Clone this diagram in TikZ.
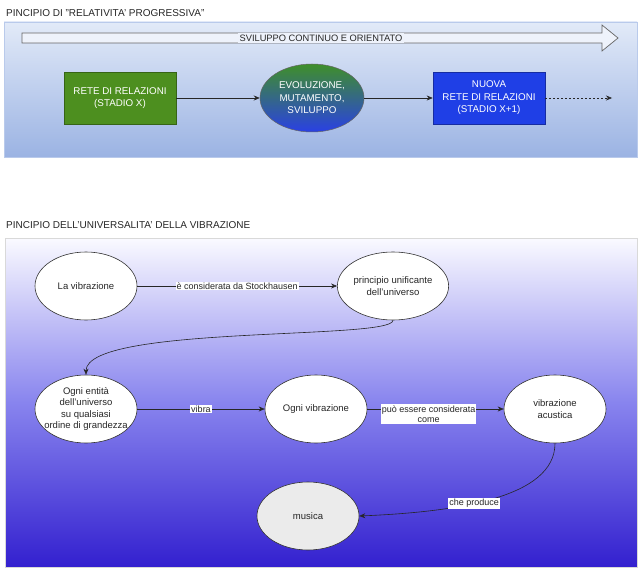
\documentclass[tikz,border=0pt]{standalone}
\usepackage{fontspec}
\setmainfont{Liberation Sans}
\usepackage{tikz}
\usetikzlibrary{arrows.meta}
\usetikzlibrary{shapes.geometric}

\definecolor{panelTop}{HTML}{E2EAF8}
\definecolor{panelBot}{HTML}{9BB3E3}
\definecolor{vibTop}{HTML}{FAFAFF}
\definecolor{vibMid}{HTML}{8884EE}
\definecolor{vibBot}{HTML}{3320CF}
\definecolor{reteGreen}{HTML}{4D8F1F}
\definecolor{reteBlue}{HTML}{1F3FE6}
\definecolor{evolGreen}{HTML}{3F8F2A}
\definecolor{evolBlue}{HTML}{2A40E4}
\definecolor{bigArrow}{HTML}{EEF2FB}

\begin{document}
\begin{tikzpicture}
[x=1pt,y=-1pt,
 vib node/.style={ellipse,draw=black!80,line width=0.6pt,fill=white,text=black!85,
   minimum width=102pt,minimum height=68pt,inner sep=0pt,align=center,
   font=\fontsize{9.5}{11.5}\selectfont},
 rete box/.style={rectangle,line width=0.6pt,minimum width=112pt,minimum height=52pt,
   inner sep=0pt,align=center,text=white,font=\fontsize{9.8}{12.5}\selectfont},
 edge label/.style={fill=white,inner sep=1pt,text=black!85,align=center,
   font=\fontsize{9}{10.5}\selectfont},
 link/.style={draw=black!85,line width=0.6pt,-{Stealth[length=6pt,width=5pt]}},
 title/.style={anchor=west,inner sep=0pt,text=black!85,font=\fontsize{10}{12}\selectfont}]
\useasboundingbox (0,0) rectangle (642,572);
\fill[white] (0,0) rectangle (642,572);

% relativita' progressiva
\node[title] (t1) at (6,13) {PINCIPIO DI "RELATIVITA' PROGRESSIVA"};
\path[top color=panelTop,bottom color=panelBot,draw=panelBot!70] (4,22) rectangle (637,157);
\path[draw=black!60,fill=bigArrow,line width=0.7pt]
  (22,33) -- (602,33) -- (602,25) -- (618,38) -- (602,51) -- (602,43) -- (22,43) -- cycle;
\node[fill=bigArrow,inner sep=1.5pt,text=black!85,font=\fontsize{9.3}{11}\selectfont] (sv) at (321,38) {SVILUPPO CONTINUO E ORIENTATO};

\node[rete box,fill=reteGreen,draw=reteGreen!70!black] (rete1) at (120,98) {RETE DI RELAZIONI\\(STADIO X)};
\node[ellipse,minimum width=104pt,minimum height=68pt,inner sep=0pt,align=center,
  top color=evolGreen,bottom color=evolBlue,draw=black!60,line width=0.5pt,text=white,
  font=\fontsize{9.8}{12.5}\selectfont] (evol) at (312,98) {EVOLUZIONE,\\MUTAMENTO,\\SVILUPPO};
\node[rete box,fill=reteBlue,draw=reteBlue!70!black] (rete2) at (489,98) {NUOVA\\RETE DI RELAZIONI\\(STADIO X+1)};
\coordinate (next) at (612,98);
\path
(rete1) edge[link] (evol)
(evol) edge[link] (rete2)
(rete2) edge[link,dashed,dash pattern=on 2pt off 2pt] (next);

% universalita' della vibrazione
\node[title] (t2) at (6,225) {PINCIPIO DELL'UNIVERSALITA' DELLA VIBRAZIONE};
\path[top color=vibTop,bottom color=vibBot,middle color=vibMid,draw=black!15] (5,238) rectangle (637,567);

\node[vib node] (vib) at (86,286) {La vibrazione};
\node[vib node] (unif) at (393,286) {principio unificante\\dell'universo};
\node[vib node,inner xsep=-10pt,inner ysep=-6pt] (entita) at (86,409) {Ogni entità\\dell'universo\\su qualsiasi\\ordine di grandezza};
\node[vib node] (ogni) at (316,409) {Ogni vibrazione};
\node[vib node] (acust) at (555,409) {vibrazione\\acustica};
\node[vib node,fill=black!8] (musica) at (308,516) {musica};

\path
(vib) edge[link] node[edge label] {è considerata da Stockhausen} (unif)
(entita) edge[link] node[edge label] {vibra} (ogni)
(ogni) edge[link] node[edge label,pos=0.45,yshift=-5pt] {può essere considerata\\come} (acust);
\draw[link] (unif.south) .. controls +(0,20) and +(0,-50) .. (entita.north);
\draw[link] (acust.south) .. controls +(0,55) and +(95,-4) .. node[edge label,pos=0.58] {che produce} (musica.east);
\end{tikzpicture}
\end{document}
